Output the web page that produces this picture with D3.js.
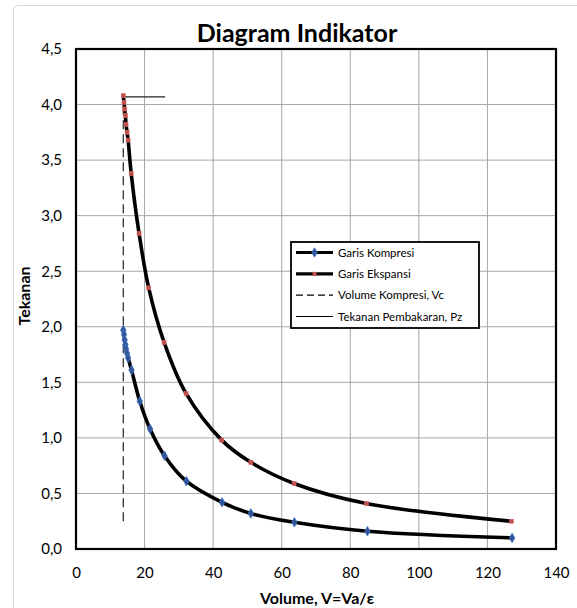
<!DOCTYPE html>
<html>
<head>
<meta charset="utf-8">
<script src="https://cdn.jsdelivr.net/npm/d3@7"></script>
<style>
  body { margin: 0; background: #fff; }
  text { font-family: Lato, "Open Sans", sans-serif; fill: #000; }
</style>
</head>
<body>
<div id="wrapper"></div>
<script>
// values
const volKompresi = [13.8, 14.0, 14.2, 14.4, 14.6, 14.9, 15.2, 16.2, 18.6, 21.6, 25.8, 32.2, 42.6, 51.0, 63.7, 85.0, 127.2]
const pKompresi   = [1.97, 1.93, 1.88, 1.84, 1.80, 1.76, 1.72, 1.61, 1.33, 1.08, 0.84, 0.61, 0.42, 0.32, 0.24, 0.16, 0.10]
const volEkspansi = [13.8, 14.0, 14.2, 14.4, 14.6, 14.9, 15.2, 16.1, 18.4, 21.2, 25.7, 32.1, 42.5, 51.0, 63.6, 84.7, 127.0]
const pEkspansi   = [4.08, 4.02, 3.96, 3.90, 3.82, 3.75, 3.68, 3.38, 2.84, 2.35, 1.86, 1.40, 0.98, 0.78, 0.59, 0.41, 0.25]
const vcLine = [[13.8, 0.25], [13.8, 4.07]]
const pzLine = [[13.8, 4.07], [26.0, 4.07]]
const xTicks = [0, 20, 40, 60, 80, 100, 120, 140]
const yTicks = [0, 0.5, 1, 1.5, 2, 2.5, 3, 3.5, 4, 4.5]
const legendNames = ['Garis Kompresi', 'Garis Ekspansi', 'Volume Kompresi, Vc', 'Tekanan Pembakaran, Pz']

const width = 577
const height = 608
const margin = { left: 76, right: 21, top: 49, bottom: 59 }

const svg = d3.select('#wrapper').append('svg')
  .attr('width', width)
  .attr('height', height)

// outer chart frame
svg.append('rect')
  .attr('x', 13.5).attr('y', 5.5)
  .attr('width', 600).attr('height', 650)
  .attr('rx', 4)
  .attr('fill', 'none')
  .attr('stroke', '#d9d9d9')

const x = d3.scaleLinear().domain([0, 140]).range([margin.left, width - margin.right])
const y = d3.scaleLinear().domain([0, 4.5]).range([height - margin.bottom, margin.top])

const fmt = d3.formatLocale({ decimal: ',', thousands: '.', grouping: [3], currency: ['', ''] })
const yFmt = fmt.format('.1f')

// gridlines
svg.append('g').selectAll('line.vx').data(xTicks).enter().append('line')
  .attr('x1', d => x(d)).attr('x2', d => x(d))
  .attr('y1', y(0)).attr('y2', y(4.5))
  .attr('stroke', '#a6a6a6').attr('stroke-width', 1)
svg.append('g').selectAll('line.hy').data(yTicks).enter().append('line')
  .attr('x1', x(0)).attr('x2', x(140))
  .attr('y1', d => y(d)).attr('y2', d => y(d))
  .attr('stroke', '#a6a6a6').attr('stroke-width', 1)

// axes labels
const xAxis = d3.axisBottom(x).tickValues(xTicks).tickSize(0).tickPadding(18)
const xg = svg.append('g').attr('transform', 'translate(0,' + y(0) + ')').call(xAxis)
xg.select('.domain').remove()
xg.selectAll('text').style('font-size', '15px').style('font-family', 'Lato, sans-serif')

const yAxis = d3.axisLeft(y).tickValues(yTicks).tickSize(0).tickPadding(14).tickFormat(yFmt)
const yg = svg.append('g').attr('transform', 'translate(' + x(0) + ',0)').call(yAxis)
yg.select('.domain').remove()
yg.selectAll('text').style('font-size', '15px').style('font-family', 'Lato, sans-serif')

// plot border
svg.append('rect')
  .attr('x', x(0)).attr('y', y(4.5))
  .attr('width', x(140) - x(0)).attr('height', y(0) - y(4.5))
  .attr('fill', 'none').attr('stroke', '#000').attr('stroke-width', 2.2)

// titles
svg.append('text').attr('x', 297).attr('y', 42).attr('text-anchor', 'middle')
  .style('font-size', '25px').style('font-weight', 'bold').text('Diagram Indikator')
svg.append('text').attr('x', 317).attr('y', 604).attr('text-anchor', 'middle')
  .style('font-size', '16px').style('font-weight', 'bold').text('Volume, V=Va/ε')
svg.append('text').attr('transform', 'translate(30,' + 296 + ') rotate(-90)').attr('text-anchor', 'middle')
  .style('font-size', '16px').style('font-weight', 'bold').text('Tekanan')

const line = d3.line().x(d => x(d[0])).y(d => y(d[1]))
const smooth = d3.line().x(d => x(d[0])).y(d => y(d[1])).curve(d3.curveCatmullRom.alpha(0.5))

const komp = volKompresi.map((v, i) => [v, pKompresi[i]])
const eksp = volEkspansi.map((v, i) => [v, pEkspansi[i]])

// Vc dashed line and Pz line
svg.append('path').attr('d', line(vcLine))
  .attr('fill', 'none').attr('stroke', '#333').attr('stroke-width', 1.3).attr('stroke-dasharray', '9,5')

svg.append('path').attr('d', smooth(komp))
  .attr('fill', 'none').attr('stroke', '#000').attr('stroke-width', 3.6)
svg.append('path').attr('d', smooth(eksp))
  .attr('fill', 'none').attr('stroke', '#000').attr('stroke-width', 3.6)

svg.append('path').attr('d', line(pzLine))
  .attr('fill', 'none').attr('stroke', '#222').attr('stroke-width', 1.2)

const diamond = d3.symbol().type(d3.symbolDiamond).size(26)
svg.append('g').selectAll('path').data(komp).enter().append('path')
  .attr('d', diamond)
  .attr('transform', d => 'translate(' + x(d[0]) + ',' + y(d[1]) + ')')
  .attr('fill', '#2f5597').attr('stroke', '#4472c4').attr('stroke-width', 0.8)

svg.append('g').selectAll('rect').data(eksp).enter().append('rect')
  .attr('x', d => x(d[0]) - 2).attr('y', d => y(d[1]) - 2)
  .attr('width', 4).attr('height', 4)
  .attr('fill', '#c0504d').attr('stroke', '#e06666').attr('stroke-width', 0.6)

// legend
const lg = svg.append('g')
lg.append('rect').attr('x', 291).attr('y', 242).attr('width', 188).attr('height', 86)
  .attr('fill', '#fff').attr('stroke', '#000').attr('stroke-width', 1.8)

const rowY = d3.scalePoint().domain(legendNames).range([252.5, 316.5])
legendNames.forEach((name, i) => {
  const yy = rowY(name)
  const ln = lg.append('line').attr('x1', 296).attr('x2', 333).attr('y1', yy).attr('y2', yy)
    .attr('stroke', '#000')
  if (i < 2) ln.attr('stroke-width', 3.2)
  else if (i === 2) ln.attr('stroke-width', 1.2).attr('stroke-dasharray', '7,4')
  else ln.attr('stroke-width', 1.2)
  if (i === 0) {
    lg.append('path').attr('d', diamond).attr('transform', 'translate(314.5,' + yy + ')')
      .attr('fill', '#2f5597').attr('stroke', '#4472c4').attr('stroke-width', 0.8)
  } else if (i === 1) {
    lg.append('rect').attr('x', 312.5).attr('y', yy - 2).attr('width', 4).attr('height', 4)
      .attr('fill', '#c0504d')
  }
  lg.append('text').attr('x', 338).attr('y', yy).attr('dy', '0.35em')
    .style('font-size', '11.5px').text(name)
})
</script>
</body>
</html>
